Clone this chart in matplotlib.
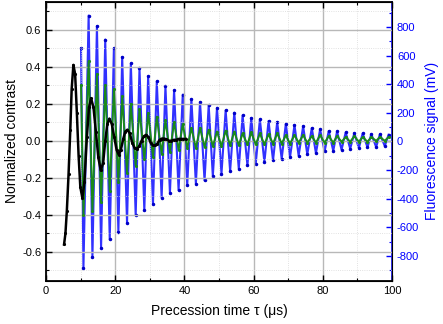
import matplotlib
matplotlib.use('Agg')
import matplotlib.pyplot as plt
import numpy as np
from matplotlib.ticker import MultipleLocator

plt.rcParams['font.family'] = ['Liberation Sans', 'DejaVu Sans']
plt.rcParams['axes.unicode_minus'] = False

# black: normalized contrast (left axis)
black_t = [5.2, 5.6, 6.0, 6.5, 7.0, 7.4, 7.9, 8.4, 8.9, 9.4, 9.9, 10.5, 11.1, 11.8,
           12.4, 13.0, 13.7, 14.4, 15.1, 15.8, 16.5, 17.1, 17.7, 18.3, 19.0, 19.7,
           20.4, 21.0, 21.6, 22.3, 22.9, 23.5, 24.2, 24.9, 25.6, 26.2, 26.9, 27.6,
           28.3, 28.9, 29.6, 30.2, 30.9, 31.5, 32.2, 32.8, 33.5, 34.1, 34.8, 35.5,
           36.2, 36.9, 37.6, 38.3, 39.0, 39.7, 40.3]
black_v = [-0.56, -0.50, -0.38, -0.18, 0.06, 0.28, 0.41, 0.36, 0.15, -0.08, -0.25,
           -0.31, -0.22, 0.02, 0.18, 0.23, 0.18, 0.05, -0.09, -0.16, -0.12, 0.00,
           0.09, 0.12, 0.09, 0.02, -0.05, -0.075, -0.05, 0.01, 0.05, 0.06, 0.04,
           -0.01, -0.04, -0.045, -0.03, 0.00, 0.025, 0.032, 0.02, -0.01, -0.025,
           -0.025, -0.015, 0.005, 0.012, 0.012, 0.008, 0.0, 0.0, 0.005, 0.005, 0.01,
           0.01, 0.01, 0.01]

# extrema of the fluorescence signal (right axis, mV)
peak_t = [12.3, 14.7, 17.1, 19.6, 22.0, 24.5, 27.0, 29.5, 32.0, 34.5, 37.0, 39.5,
          42.0, 44.5, 47.0, 49.4, 51.9, 54.4, 56.8, 59.3, 61.8, 64.3, 66.8, 69.3,
          71.8, 74.3, 76.8, 79.2, 81.7, 84.1, 86.6, 89.1, 91.5, 94.0, 96.5, 99.0]
trough_t = [10.8, 13.4, 15.9, 18.4, 20.9, 23.4, 25.9, 28.4, 30.9, 33.4, 35.8, 38.3,
            40.8, 43.3, 45.8, 48.2, 50.7, 53.2, 55.7, 58.2, 60.6, 63.1, 65.6, 68.1,
            70.5, 73.0, 75.5, 78.0, 80.5, 83.0, 85.4, 87.9, 90.4, 92.9, 95.4, 97.9]
blue_peak = [880, 806, 712, 652, 590, 545, 510, 455, 420, 385, 356, 327, 296, 275,
             252, 235, 217, 201, 182, 164, 154, 142, 135, 124, 114, 106, 93, 84, 73,
             70, 63, 58, 56, 51, 51, 47]
blue_trough = [-886, -809, -743, -685, -634, -571, -517, -482, -436, -394, -360,
               -342, -307, -296, -273, -243, -226, -207, -191, -168, -156, -145,
               -133, -121, -112, -100, -90, -82, -70, -66, -58, -51, -47, -41, -39, -33]
blue_start = (10.1, 650)

# green: normalized contrast (left axis)
green_peak = [0.43, 0.36, 0.30, 0.28, 0.24, 0.20, 0.17, 0.15, 0.13, 0.11, 0.10, 0.09,
              0.07, 0.07, 0.06, 0.05, 0.055, 0.05, 0.04, 0.045, 0.04, 0.035, 0.04,
              0.03, 0.03, 0.03, 0.025, 0.03, 0.025, 0.025, 0.02, 0.025, 0.02, 0.02,
              0.02, 0.02]
green_trough = [-0.40, -0.38, -0.33, -0.27, -0.22, -0.175, -0.135, -0.10, -0.085,
                -0.07, -0.06, -0.05, -0.04, -0.04, -0.035, -0.03, -0.03, -0.025,
                -0.025, -0.02, -0.02, -0.02, -0.015, -0.015, -0.015, -0.01, -0.01,
                -0.01, -0.01, -0.01, -0.005, -0.005, -0.005, -0.005, 0.0, 0.0]
green_start = (10.1, 0.30)


def merge(start, t1, v1, t2, v2):
    t = np.array([start[0]] + t1 + t2)
    v = np.array([start[1]] + v1 + v2)
    order = np.argsort(t)
    return t[order], v[order]


blue_t, blue_v = merge(blue_start, peak_t, blue_peak, trough_t, blue_trough)
green_t, green_v = merge(green_start, peak_t, green_peak, trough_t, green_trough)

fig = plt.figure(figsize=(4.43, 3.24), dpi=100)
ax = fig.add_axes([0.104, 0.133, 0.781, 0.861])
ax2 = ax.twinx()

# blue on the twin axis, kept behind the left-axis curves
ax2.set_zorder(0)
ax.set_zorder(1)
ax.patch.set_visible(False)

ax2.plot(blue_t, blue_v, color='#1a1aff', lw=1.5, alpha=0.9, solid_joinstyle='round')
ax2.plot(blue_t, blue_v, ls='none', marker='.', ms=3, color='#0000c8')

ax.plot(green_t, green_v, color='#1a8a1a', lw=1.4, marker='.', ms=2.5)
ax.plot(black_t, black_v, color='black', lw=1.8, marker='.', ms=2.5)

ax.set_xlim(0, 100)
ax.set_ylim(-0.757, 0.75)
ax2.set_ylim(-975, 975)

ax.xaxis.set_major_locator(MultipleLocator(20))
ax.xaxis.set_minor_locator(MultipleLocator(10))
ax.yaxis.set_major_locator(MultipleLocator(0.2))
ax.yaxis.set_minor_locator(MultipleLocator(0.1))
ax2.yaxis.set_major_locator(MultipleLocator(200))
ax2.yaxis.set_minor_locator(MultipleLocator(100))

ax.grid(which='major', color='#b8b8b8', lw=1.0)
ax.grid(which='minor', color='#d8d8d8', lw=0.6, ls=':')
ax.set_axisbelow(True)

ax.tick_params(which='both', direction='in', top=True, right=False, labelsize=8)
ax.tick_params(which='major', length=4, width=1)
ax.tick_params(which='minor', length=2, width=0.8)
ax2.tick_params(which='both', direction='in', colors='blue', labelsize=8)
ax2.tick_params(which='major', length=4, width=1)
ax2.tick_params(which='minor', length=2, width=0.8)

ax.yaxis.set_major_formatter(plt.FuncFormatter(lambda v, p: f'{v:.1f}'))

for s in ['left', 'top', 'bottom']:
    ax.spines[s].set_linewidth(1.3)
ax2.spines['right'].set_color('blue')
ax2.spines['right'].set_linewidth(1.3)
ax2.spines['left'].set_visible(False)

ax.set_xlabel('Precession time τ (μs)', fontsize=10, labelpad=6)
ax.set_ylabel('Normalized contrast', fontsize=10, labelpad=2)
ax2.set_ylabel('Fluorescence signal (mV)', fontsize=10, color='blue', labelpad=4)

fig.savefig('out.png', dpi=100)
